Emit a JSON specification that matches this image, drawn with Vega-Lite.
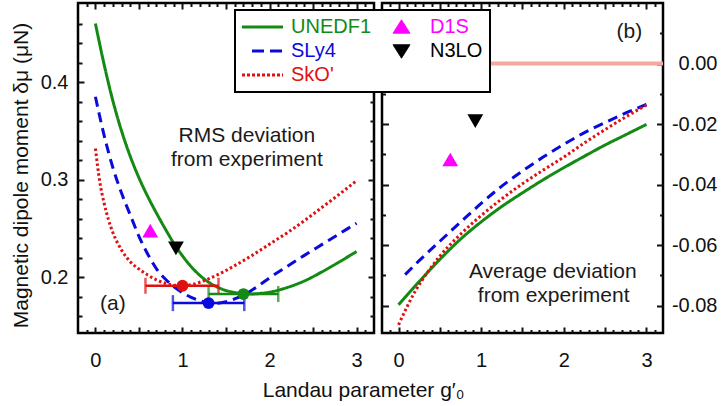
{
  "$schema": "https://vega.github.io/schema/vega-lite/v6.json",
  "padding": {"left": 8, "top": 0, "right": 0, "bottom": 0},
  "background": "white",
  "datasets": {
    "left_lines": [
      {"model": "UNEDF1", "g": 0, "v": 0.46}, {"model": "UNEDF1", "g": 0.1, "v": 0.418}, {"model": "UNEDF1", "g": 0.2, "v": 0.381}, {"model": "UNEDF1", "g": 0.3, "v": 0.35}, {"model": "UNEDF1", "g": 0.4, "v": 0.324}, {"model": "UNEDF1", "g": 0.5, "v": 0.302}, {"model": "UNEDF1", "g": 0.6, "v": 0.283}, {"model": "UNEDF1", "g": 0.7, "v": 0.266}, {"model": "UNEDF1", "g": 0.8, "v": 0.25}, {"model": "UNEDF1", "g": 0.9, "v": 0.235}, {"model": "UNEDF1", "g": 1.0, "v": 0.222}, {"model": "UNEDF1", "g": 1.1, "v": 0.211}, {"model": "UNEDF1", "g": 1.2, "v": 0.202}, {"model": "UNEDF1", "g": 1.3, "v": 0.195}, {"model": "UNEDF1", "g": 1.4, "v": 0.19}, {"model": "UNEDF1", "g": 1.5, "v": 0.1865}, {"model": "UNEDF1", "g": 1.6, "v": 0.1845}, {"model": "UNEDF1", "g": 1.7, "v": 0.1833}, {"model": "UNEDF1", "g": 1.8, "v": 0.183}, {"model": "UNEDF1", "g": 1.9, "v": 0.1836}, {"model": "UNEDF1", "g": 2.0, "v": 0.1848}, {"model": "UNEDF1", "g": 2.2, "v": 0.1895}, {"model": "UNEDF1", "g": 2.4, "v": 0.1963}, {"model": "UNEDF1", "g": 2.6, "v": 0.2055}, {"model": "UNEDF1", "g": 2.8, "v": 0.2157}, {"model": "UNEDF1", "g": 3.0, "v": 0.2265},
      {"model": "SLy4", "g": 0, "v": 0.385}, {"model": "SLy4", "g": 0.1, "v": 0.3454}, {"model": "SLy4", "g": 0.2, "v": 0.3125}, {"model": "SLy4", "g": 0.3, "v": 0.2864}, {"model": "SLy4", "g": 0.4, "v": 0.264}, {"model": "SLy4", "g": 0.5, "v": 0.242}, {"model": "SLy4", "g": 0.6, "v": 0.224}, {"model": "SLy4", "g": 0.7, "v": 0.209}, {"model": "SLy4", "g": 0.8, "v": 0.1986}, {"model": "SLy4", "g": 0.9, "v": 0.1905}, {"model": "SLy4", "g": 1.0, "v": 0.1843}, {"model": "SLy4", "g": 1.1, "v": 0.1795}, {"model": "SLy4", "g": 1.2, "v": 0.176}, {"model": "SLy4", "g": 1.3, "v": 0.174}, {"model": "SLy4", "g": 1.4, "v": 0.1735}, {"model": "SLy4", "g": 1.5, "v": 0.175}, {"model": "SLy4", "g": 1.6, "v": 0.178}, {"model": "SLy4", "g": 1.7, "v": 0.182}, {"model": "SLy4", "g": 1.8, "v": 0.187}, {"model": "SLy4", "g": 1.9, "v": 0.193}, {"model": "SLy4", "g": 2.0, "v": 0.1995}, {"model": "SLy4", "g": 2.2, "v": 0.211}, {"model": "SLy4", "g": 2.4, "v": 0.2225}, {"model": "SLy4", "g": 2.6, "v": 0.2335}, {"model": "SLy4", "g": 2.8, "v": 0.2445}, {"model": "SLy4", "g": 3.0, "v": 0.2555},
      {"model": "SkO'", "g": 0, "v": 0.332}, {"model": "SkO'", "g": 0.05, "v": 0.298}, {"model": "SkO'", "g": 0.1, "v": 0.276}, {"model": "SkO'", "g": 0.15, "v": 0.259}, {"model": "SkO'", "g": 0.2, "v": 0.246}, {"model": "SkO'", "g": 0.3, "v": 0.228}, {"model": "SkO'", "g": 0.4, "v": 0.216}, {"model": "SkO'", "g": 0.5, "v": 0.2085}, {"model": "SkO'", "g": 0.6, "v": 0.2025}, {"model": "SkO'", "g": 0.7, "v": 0.1975}, {"model": "SkO'", "g": 0.8, "v": 0.194}, {"model": "SkO'", "g": 0.9, "v": 0.192}, {"model": "SkO'", "g": 1.0, "v": 0.1915}, {"model": "SkO'", "g": 1.1, "v": 0.1925}, {"model": "SkO'", "g": 1.2, "v": 0.195}, {"model": "SkO'", "g": 1.3, "v": 0.1985}, {"model": "SkO'", "g": 1.4, "v": 0.2025}, {"model": "SkO'", "g": 1.5, "v": 0.207}, {"model": "SkO'", "g": 1.6, "v": 0.212}, {"model": "SkO'", "g": 1.8, "v": 0.2225}, {"model": "SkO'", "g": 2.0, "v": 0.234}, {"model": "SkO'", "g": 2.2, "v": 0.2455}, {"model": "SkO'", "g": 2.4, "v": 0.258}, {"model": "SkO'", "g": 2.6, "v": 0.2715}, {"model": "SkO'", "g": 2.8, "v": 0.285}, {"model": "SkO'", "g": 3.0, "v": 0.299}
    ],
    "right_lines": [
      {"model": "UNEDF1", "g": 0, "v": -0.0797}, {"model": "UNEDF1", "g": 0.25, "v": -0.072}, {"model": "UNEDF1", "g": 0.5, "v": -0.0647}, {"model": "UNEDF1", "g": 0.75, "v": -0.058}, {"model": "UNEDF1", "g": 1.0, "v": -0.0523}, {"model": "UNEDF1", "g": 1.25, "v": -0.0472}, {"model": "UNEDF1", "g": 1.5, "v": -0.0427}, {"model": "UNEDF1", "g": 1.75, "v": -0.0384}, {"model": "UNEDF1", "g": 2.0, "v": -0.0344}, {"model": "UNEDF1", "g": 2.25, "v": -0.0306}, {"model": "UNEDF1", "g": 2.5, "v": -0.0269}, {"model": "UNEDF1", "g": 2.75, "v": -0.0235}, {"model": "UNEDF1", "g": 3.0, "v": -0.0201},
      {"model": "SLy4", "g": 0.08, "v": -0.0697}, {"model": "SLy4", "g": 0.25, "v": -0.0651}, {"model": "SLy4", "g": 0.5, "v": -0.0587}, {"model": "SLy4", "g": 0.75, "v": -0.0524}, {"model": "SLy4", "g": 1.0, "v": -0.0462}, {"model": "SLy4", "g": 1.25, "v": -0.0405}, {"model": "SLy4", "g": 1.5, "v": -0.0355}, {"model": "SLy4", "g": 1.75, "v": -0.0309}, {"model": "SLy4", "g": 2.0, "v": -0.0267}, {"model": "SLy4", "g": 2.25, "v": -0.0228}, {"model": "SLy4", "g": 2.5, "v": -0.0195}, {"model": "SLy4", "g": 2.75, "v": -0.0163}, {"model": "SLy4", "g": 3.0, "v": -0.0135},
      {"model": "SkO'", "g": 0, "v": -0.0863}, {"model": "SkO'", "g": 0.1, "v": -0.0805}, {"model": "SkO'", "g": 0.2, "v": -0.0753}, {"model": "SkO'", "g": 0.35, "v": -0.069}, {"model": "SkO'", "g": 0.5, "v": -0.0636}, {"model": "SkO'", "g": 0.75, "v": -0.0564}, {"model": "SkO'", "g": 1.0, "v": -0.0502}, {"model": "SkO'", "g": 1.25, "v": -0.0447}, {"model": "SkO'", "g": 1.5, "v": -0.0397}, {"model": "SkO'", "g": 1.75, "v": -0.0352}, {"model": "SkO'", "g": 2.0, "v": -0.0309}, {"model": "SkO'", "g": 2.25, "v": -0.0262}, {"model": "SkO'", "g": 2.5, "v": -0.0218}, {"model": "SkO'", "g": 2.75, "v": -0.0176}, {"model": "SkO'", "g": 3.0, "v": -0.0137}
    ],
    "err": [
      {"model": "SkO'", "g": 1.0, "lo": 0.575, "hi": 1.414, "v": 0.1914},
      {"model": "SLy4", "g": 1.3, "lo": 0.89, "hi": 1.71, "v": 0.1736},
      {"model": "UNEDF1", "g": 1.7, "lo": 1.3, "hi": 2.1, "v": 0.1829}
    ],
    "tri_left": [
      {"model": "D1S", "g": 0.63, "v": 0.2478},
      {"model": "N3LO", "g": 0.925, "v": 0.2297}
    ],
    "tri_right": [
      {"model": "D1S", "g": 0.626, "v": -0.0317},
      {"model": "N3LO", "g": 0.929, "v": -0.019}
    ],
    "txt_left": [
      {"t": "RMS deviation", "g": 1.74, "v": 0.345},
      {"t": "from experiment", "g": 1.74, "v": 0.3203},
      {"t": "(a)", "g": 0.2, "v": 0.1726}
    ],
    "txt_right": [
      {"t": "Average deviation", "g": 1.867, "v": -0.0688},
      {"t": "from experiment", "g": 1.877, "v": -0.0769},
      {"t": "(b)", "g": 2.794, "v": 0.0103}
    ],
    "zero": [{"v": 0}]
  },
  "title": {"text": "Landau parameter g′₀", "orient": "bottom", "anchor": "middle", "fontSize": 21, "fontWeight": "normal", "font": "Liberation Sans", "color": "#111", "offset": 9},
  "spacing": 1,
  "hconcat": [
    {
      "width": 296,
      "height": 330,
      "resolve": {"axis": {"x": "independent", "y": "independent"}},
      "layer": [
        {
          "data": {"name": "left_lines"},
          "mark": {"type": "line", "strokeWidth": 3, "interpolate": "monotone"},
          "encoding": {
            "x": {"field": "g", "type": "quantitative", "scale": {"domain": [-0.2, 3.2], "nice": false, "zero": false},
              "axis": {"orient": "bottom", "values": [0, 1, 2, 3], "format": "d", "ticks": false, "labelPadding": 17, "labelFlush": false, "labelOverlap": false, "title": null}},
            "y": {"field": "v", "type": "quantitative", "scale": {"domain": [0.143, 0.481], "nice": false, "zero": false},
              "axis": {"orient": "left", "values": [0.2, 0.3, 0.4], "format": ".1f", "ticks": false, "labelPadding": 10, "labelFlush": false, "labelOverlap": false, "title": "Magnetic dipole moment δμ (μN)", "titleFontSize": 21, "titleFontWeight": "normal", "titleColor": "#111", "titlePadding": 9, "titleY": 172}},
            "color": {"field": "model", "type": "nominal",
              "scale": {"domain": ["UNEDF1", "SLy4", "SkO'", "D1S", "N3LO"], "range": ["#138a13", "#0a0adc", "#e01010", "#ff00ff", "#000000"]},
              "legend": {
                "orient": "none", "legendX": 157, "legendY": 7, "columns": 2, "title": null,
                "symbolSize": 400, "labelOffset": 29, "labelFontSize": 20, "labelFont": "Liberation Sans", "labelLimit": 200,
                "rowPadding": 4, "columnPadding": 9, "padding": 7, "strokeColor": "black", "fillColor": "white",
                "encode": {
                  "symbols": {"update": {
                    "shape": {"signal": "datum.index==3 ? 'M1.05,-0.72L1.9,0.62L0.2,0.62Z' : datum.index==4 ? 'M0.2,-0.62L1.9,-0.62L1.05,0.72Z' : datum.index==1 ? 'M0,0L3.1,0' : 'M-1,0L3.1,0'"},
                    "strokeDash": {"signal": "datum.index==1 ? [12,6] : datum.index==2 ? [3,2] : [1,0]"},
                    "strokeWidth": {"signal": "datum.index==3 || datum.index==4 ? 1 : 3"},
                    "fill": {"scale": "color", "field": "value"},
                    "stroke": {"scale": "color", "field": "value"},
                    "opacity": {"value": 1}
                  }},
                  "labels": {"update": {"fill": {"scale": "color", "field": "value"}}},
                  "legend": {"update": {"strokeWidth": {"value": 2}}}
                }
              }},
            "strokeDash": {"field": "model", "type": "nominal", "scale": {"domain": ["UNEDF1", "SLy4", "SkO'"], "range": [[1, 0], [10, 6], [2.5, 2.5]]}, "legend": null}
          }
        },
        {
          "data": {"name": "err"},
          "mark": {"type": "errorbar", "ticks": true, "size": 16, "thickness": 2.5},
          "encoding": {
            "x": {"field": "lo", "type": "quantitative", "axis": null},
            "x2": {"field": "hi"},
            "y": {"field": "v", "type": "quantitative", "axis": null},
            "color": {"field": "model", "type": "nominal", "legend": null}
          }
        },
        {
          "data": {"name": "err"},
          "mark": {"type": "point", "filled": true, "size": 140, "opacity": 1},
          "encoding": {
            "x": {"field": "g", "type": "quantitative",
              "axis": {"orient": "bottom", "labels": false, "title": null, "values": [-0.1,0,0.1,0.2,0.3,0.4,0.5,0.6,0.7,0.8,0.9,1,1.1,1.2,1.3,1.4,1.5,1.6,1.7,1.8,1.9,2,2.1,2.2,2.3,2.4,2.5,2.6,2.7,2.8,2.9,3,3.1],
                "tickSize": {"condition": {"test": "abs(datum.value*2 - round(datum.value*2)) < 0.01", "value": -6}, "value": -3.5}}},
            "y": {"field": "v", "type": "quantitative",
              "axis": {"orient": "left", "labels": false, "title": null, "values": [0.16,0.18,0.2,0.22,0.24,0.26,0.28,0.3,0.32,0.34,0.36,0.38,0.4,0.42,0.44,0.46],
                "tickSize": {"condition": {"test": "abs(datum.value*10 - round(datum.value*10)) < 0.01", "value": -6}, "value": -4}}},
            "color": {"field": "model", "type": "nominal", "legend": null}
          }
        },
        {
          "data": {"name": "tri_left"},
          "mark": {"type": "point", "filled": true, "size": 250, "opacity": 1},
          "encoding": {
            "x": {"field": "g", "type": "quantitative",
              "axis": {"orient": "top", "labels": false, "title": null, "values": [-0.1,0,0.1,0.2,0.3,0.4,0.5,0.6,0.7,0.8,0.9,1,1.1,1.2,1.3,1.4,1.5,1.6,1.7,1.8,1.9,2,2.1,2.2,2.3,2.4,2.5,2.6,2.7,2.8,2.9,3,3.1],
                "tickSize": {"condition": {"test": "abs(datum.value*2 - round(datum.value*2)) < 0.01", "value": -6}, "value": -3.5}}},
            "y": {"field": "v", "type": "quantitative",
              "axis": {"orient": "right", "labels": false, "title": null, "values": [0.16,0.18,0.2,0.22,0.24,0.26,0.28,0.3,0.32,0.34,0.36,0.38,0.4,0.42,0.44,0.46],
                "tickSize": {"condition": {"test": "abs(datum.value*10 - round(datum.value*10)) < 0.01", "value": -6}, "value": -4}}},
            "color": {"field": "model", "type": "nominal", "legend": null},
            "shape": {"field": "model", "type": "nominal", "scale": {"domain": ["D1S", "N3LO"], "range": ["triangle-up", "triangle-down"]}, "legend": null}
          }
        },
        {
          "data": {"name": "txt_left"},
          "mark": {"type": "text", "fontSize": 21, "font": "Liberation Sans", "color": "#1a1a1a"},
          "encoding": {
            "x": {"field": "g", "type": "quantitative", "axis": null},
            "y": {"field": "v", "type": "quantitative", "axis": null},
            "text": {"field": "t"}
          }
        }
      ]
    },
    {
      "width": 281,
      "height": 330,
      "resolve": {"axis": {"x": "independent", "y": "independent"}},
      "layer": [
        {
          "data": {"name": "zero"},
          "mark": {"type": "rule", "color": "#f7a89e", "strokeWidth": 4},
          "encoding": {
            "y": {"field": "v", "type": "quantitative", "axis": null}
          }
        },
        {
          "data": {"name": "right_lines"},
          "mark": {"type": "line", "strokeWidth": 3, "interpolate": "monotone"},
          "encoding": {
            "x": {"field": "g", "type": "quantitative", "scale": {"domain": [-0.2, 3.2], "nice": false, "zero": false},
              "axis": {"orient": "bottom", "values": [0, 1, 2, 3], "format": "d", "ticks": false, "labelPadding": 17, "labelFlush": false, "labelOverlap": false, "title": null}},
            "y": {"field": "v", "type": "quantitative", "scale": {"domain": [-0.089, 0.02], "nice": false, "zero": false},
              "axis": {"orient": "right", "values": [0, -0.02, -0.04, -0.06, -0.08], "labelExpr": "datum.value == 0 ? '0.00' : '-0.0' + format(abs(datum.value) * 100, 'd')", "ticks": false, "labelAlign": "right", "labelPadding": 54, "labelFlush": false, "labelOverlap": false, "title": null}},
            "color": {"field": "model", "type": "nominal", "scale": {"domain": ["UNEDF1", "SLy4", "SkO'", "D1S", "N3LO"], "range": ["#138a13", "#0a0adc", "#e01010", "#ff00ff", "#000000"]}, "legend": null},
            "strokeDash": {"field": "model", "type": "nominal", "scale": {"domain": ["UNEDF1", "SLy4", "SkO'"], "range": [[1, 0], [10, 6], [2.5, 2.5]]}, "legend": null}
          }
        },
        {
          "data": {"name": "tri_right"},
          "mark": {"type": "point", "filled": true, "size": 250, "opacity": 1},
          "encoding": {
            "x": {"field": "g", "type": "quantitative",
              "axis": {"orient": "bottom", "labels": false, "title": null, "values": [-0.1,0,0.1,0.2,0.3,0.4,0.5,0.6,0.7,0.8,0.9,1,1.1,1.2,1.3,1.4,1.5,1.6,1.7,1.8,1.9,2,2.1,2.2,2.3,2.4,2.5,2.6,2.7,2.8,2.9,3,3.1],
                "tickSize": {"condition": {"test": "abs(datum.value*2 - round(datum.value*2)) < 0.01", "value": -6}, "value": -3.5}}},
            "y": {"field": "v", "type": "quantitative",
              "axis": {"orient": "right", "labels": false, "title": null, "values": [-0.08,-0.07,-0.06,-0.05,-0.04,-0.03,-0.02,-0.01,0,0.01],
                "tickSize": {"condition": {"test": "abs(datum.value*50 - round(datum.value*50)) < 0.01", "value": -6.5}, "value": -3.5}}},
            "color": {"field": "model", "type": "nominal", "legend": null},
            "shape": {"field": "model", "type": "nominal", "scale": {"domain": ["D1S", "N3LO"], "range": ["triangle-up", "triangle-down"]}, "legend": null}
          }
        },
        {
          "data": {"name": "txt_right"},
          "mark": {"type": "text", "fontSize": 21, "font": "Liberation Sans", "color": "#1a1a1a"},
          "encoding": {
            "x": {"field": "g", "type": "quantitative",
              "axis": {"orient": "top", "labels": false, "title": null, "values": [-0.1,0,0.1,0.2,0.3,0.4,0.5,0.6,0.7,0.8,0.9,1,1.1,1.2,1.3,1.4,1.5,1.6,1.7,1.8,1.9,2,2.1,2.2,2.3,2.4,2.5,2.6,2.7,2.8,2.9,3,3.1],
                "tickSize": {"condition": {"test": "abs(datum.value*2 - round(datum.value*2)) < 0.01", "value": -6}, "value": -3.5}}},
            "y": {"field": "v", "type": "quantitative",
              "axis": {"orient": "left", "labels": false, "title": null, "values": [-0.08,-0.07,-0.06,-0.05,-0.04,-0.03,-0.02,-0.01,0,0.01],
                "tickSize": {"condition": {"test": "abs(datum.value*50 - round(datum.value*50)) < 0.01", "value": -6.5}, "value": -3.5}}},
            "text": {"field": "t"}
          }
        }
      ]
    }
  ],
  "config": {
    "font": "Liberation Sans",
    "view": {"stroke": "black", "strokeWidth": 2.5},
    "axis": {"grid": false, "domain": false, "labelFont": "Liberation Sans", "labelFontSize": 20, "labelColor": "#111", "tickColor": "#111", "tickWidth": 2, "titleFont": "Liberation Sans"}
  }
}
